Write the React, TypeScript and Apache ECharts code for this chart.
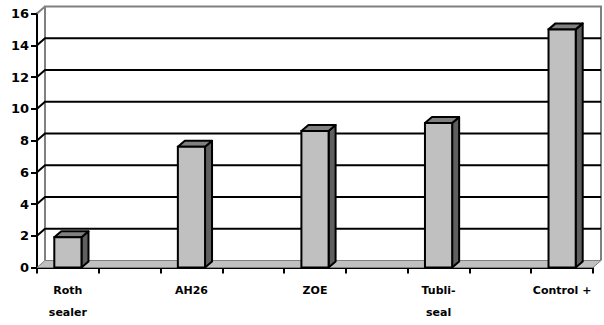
import React, { useEffect, useRef } from "react";
import * as echarts from "echarts";

const barLabels = ["Roth\nsealer", "AH26", "ZOE", "Tubli-\nseal", "Control +"];
const barValues = [1.9, 7.6, 8.6, 9.1, 15.0];
const yTicks = [0, 2, 4, 6, 8, 10, 12, 14, 16];

const DX = 8;
const DY = 7;
const FONT = "'DejaVu Sans', Arial, sans-serif";

export default function App() {
  const ref = useRef<HTMLDivElement>(null);
  useEffect(() => {
    if (!ref.current) return;
    const chart = echarts.init(ref.current, null, { renderer: "svg" });
    // 9 slots: bars on even slots, empty in between
    const categories: string[] = [];
    const barData: [number, number][] = [];
    barLabels.forEach((l, i) => {
      if (i > 0) categories.push("");
      categories.push(l);
      barData.push([categories.length - 1, barValues[i]]);
    });

    const option: any = {
      animation: false,
      grid: { left: 37, top: 13.5, right: 11, bottom: 57.5, containLabel: false },
      xAxis: {
        type: "category",
        data: categories,
        boundaryGap: true,
        axisLine: { show: true, lineStyle: { color: "#000", width: 2 } },
        axisTick: { show: true, interval: 0, length: 6, lineStyle: { color: "#000", width: 2 } },
        axisLabel: {
          interval: 0,
          margin: 12,
          color: "#000",
          fontFamily: FONT,
          fontWeight: "bold",
          fontSize: 11,
          lineHeight: 22,
        },
        splitLine: { show: false },
      },
      yAxis: {
        type: "value",
        min: 0,
        max: 16,
        interval: 2,
        axisLine: { show: true, lineStyle: { color: "#000", width: 2 } },
        axisTick: { show: true, length: 6, lineStyle: { color: "#000", width: 2 } },
        axisLabel: {
          margin: 8,
          color: "#000",
          fontFamily: FONT,
          fontWeight: "bold",
          fontSize: 13,
        },
        splitLine: { show: false },
      },
      series: [
        {
          type: "custom",
          clip: false,
          silent: true,
          z: 1,
          data: yTicks.map((v) => [0, v]),
          renderItem: (params: any, api: any) => {
            const cs = params.coordSys;
            const v = api.value(1);
            const y = api.coord([0, v])[1];
            const x0 = cs.x;
            const x1 = cs.x + cs.width;
            const children: any[] = [];
            if (v === 0) {
              children.push({
                type: "polygon",
                shape: { points: [[x0, y], [x0 + DX, y - DY], [x1 + DX, y - DY], [x1, y]] },
                style: { fill: "#c0c0c0", stroke: "#808080", lineWidth: 1 },
              });
              const yTop = api.coord([0, 16])[1];
              children.push({
                type: "polyline",
                shape: {
                  points: [
                    [x0 + DX, y - DY],
                    [x0 + DX, yTop - DY],
                    [x1 + DX, yTop - DY],
                    [x1 + DX, y - DY],
                  ],
                },
                style: { fill: "none", stroke: "#808080", lineWidth: 2 },
              });
              children.push({
                type: "line",
                shape: { x1: x0, y1: yTop, x2: x0 + DX, y2: yTop - DY },
                style: { stroke: "#808080", lineWidth: 2 },
              });
            } else if (v < 16) {
              children.push({
                type: "polyline",
                shape: { points: [[x0, y], [x0 + DX, y - DY], [x1 + DX, y - DY]] },
                style: { fill: "none", stroke: "#000", lineWidth: 2 },
              });
            }
            return { type: "group", children };
          },
        },
        {
          type: "custom",
          clip: false,
          z: 3,
          data: barData,
          renderItem: (params: any, api: any) => {
            const top = api.coord([api.value(0), api.value(1)]);
            const bot = api.coord([api.value(0), 0]);
            const w = api.size([1, 0])[0] * 0.44;
            const bx0 = top[0] - w / 2;
            const bx1 = top[0] + w / 2;
            const yt = top[1];
            const yb = bot[1];
            const dx = 7;
            const dy = 6;
            return {
              type: "group",
              children: [
                {
                  type: "polygon",
                  shape: { points: [[bx1, yt], [bx1 + dx, yt - dy], [bx1 + dx, yb - dy], [bx1, yb]] },
                  style: { fill: "#5f5f5f", stroke: "#000", lineWidth: 2, lineJoin: "round" },
                },
                {
                  type: "polygon",
                  shape: { points: [[bx0, yt], [bx0 + dx, yt - dy], [bx1 + dx, yt - dy], [bx1, yt]] },
                  style: { fill: "#808080", stroke: "#000", lineWidth: 2, lineJoin: "round" },
                },
                {
                  type: "rect",
                  shape: { x: bx0, y: yt, width: w, height: yb - yt },
                  style: { fill: "#c0c0c0", stroke: "#000", lineWidth: 2 },
                },
              ],
            };
          },
        },
      ],
    };
    chart.setOption(option);
    return () => chart.dispose();
  }, []);
  return (
    <div
      ref={ref}
      style={{ position: "fixed", left: 0, top: 0, width: 604, height: 325, background: "#fff" }}
    />
  );
}
